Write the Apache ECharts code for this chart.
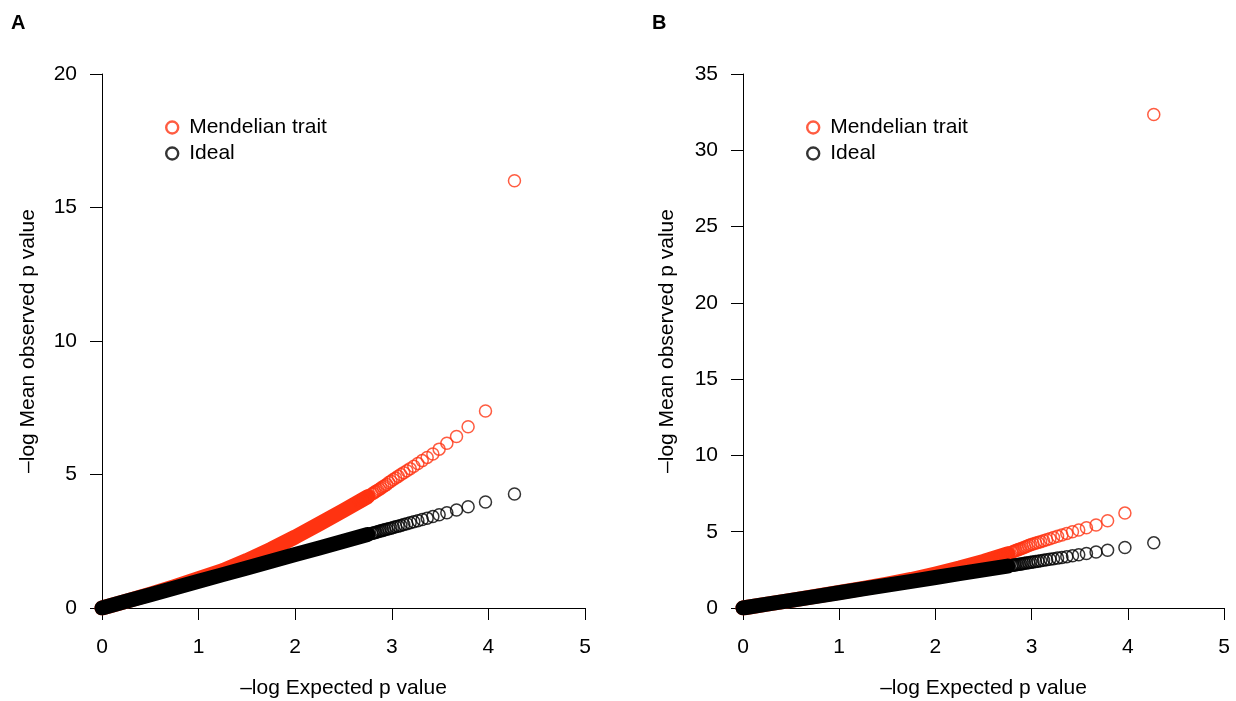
<!DOCTYPE html>
<html>
<head>
<meta charset="utf-8">
<script src="https://cdn.jsdelivr.net/npm/echarts@6/dist/echarts.min.js"></script>
<style>
html,body{margin:0;padding:0;background:#fff;}
#chart{width:1236px;height:701px;}
</style>
</head>
<body>
<div id="chart"></div>
<script>
// ---- data ----
const seriesNames = ['Mendelian trait', 'Ideal'];
const xTickLabels = ['0', '1', '2', '3', '4', '5'];
// dense part of the QQ curves (expected -log p)
const bandX = [0, 0.25, 0.5, 0.75, 1.0, 1.25, 1.5, 1.75, 2.0, 2.25, 2.5, 2.75];
const bandIdeal = [0, 0.25, 0.5, 0.75, 1.0, 1.25, 1.5, 1.75, 2.0, 2.25, 2.5, 2.75];
const bandA_red = [0, 0.25, 0.52, 0.8, 1.1, 1.4, 1.78, 2.2, 2.66, 3.15, 3.65, 4.17];
const bandB_red = [0, 0.25, 0.5, 0.76, 1.02, 1.28, 1.56, 1.87, 2.23, 2.62, 3.05, 3.55];
// separated points at the top end
const tailX = [4.27, 3.97, 3.79, 3.67, 3.57, 3.49, 3.425, 3.366, 3.315, 3.27, 3.228, 3.19, 3.156, 3.124, 3.094, 3.066, 3.04, 3.015, 2.991, 2.969,
  2.947, 2.927, 2.908, 2.889, 2.872, 2.855, 2.838, 2.823, 2.808, 2.793, 2.765, 2.738, 2.713, 2.689, 2.667];
const tailIdeal = [4.27, 3.97, 3.79, 3.67, 3.57, 3.49, 3.425, 3.366, 3.315, 3.27, 3.228, 3.19, 3.156, 3.124, 3.094, 3.066, 3.04, 3.015, 2.991, 2.969,
  2.947, 2.927, 2.908, 2.889, 2.872, 2.855, 2.838, 2.823, 2.808, 2.793, 2.765, 2.738, 2.713, 2.689, 2.667];
const tailA_red = [16.0, 7.38, 6.79, 6.42, 6.17, 5.95, 5.77, 5.64, 5.52, 5.41, 5.31, 5.22, 5.14, 5.07, 5.0, 4.93, 4.87, 4.81, 4.75, 4.70,
  4.63, 4.58, 4.54, 4.49, 4.45, 4.41, 4.37, 4.34, 4.30, 4.27, 4.20, 4.14, 4.08, 4.03, 3.98];
const tailB_red = [32.35, 6.22, 5.72, 5.44, 5.26, 5.11, 5.0, 4.89, 4.79, 4.70, 4.62, 4.54, 4.47, 4.41, 4.35, 4.29, 4.24, 4.19, 4.14, 4.10,
  4.03, 3.98, 3.93, 3.89, 3.85, 3.81, 3.77, 3.73, 3.69, 3.65, 3.59, 3.52, 3.46, 3.41, 3.36];
const yMaxA = 20, yMaxB = 35;

// ---- styling ----
const RED = '#ff3311';
const BLACK = '#000000';
const FONT = 'Liberation Sans, Arial, Helvetica, sans-serif';
const FS = 21;

function pairs(xs, ys) { return xs.map((x, i) => [x, ys[i]]); }

function xAxisFor(gi) {
  return {
    type: 'value', gridIndex: gi, min: 0, max: 5, interval: 1,
    name: '\u2013log Expected p value', nameLocation: 'middle', nameGap: 70,
    nameTextStyle: {fontSize: FS, color: '#000', fontFamily: FONT},
    axisLine: {show: true, onZero: false, lineStyle: {color: '#000', width: 1}},
    axisTick: {show: true, inside: false, length: 12, lineStyle: {color: '#000', width: 1}},
    axisLabel: {show: true, margin: 29, fontSize: FS, color: '#000', fontFamily: FONT,
      formatter: v => xTickLabels[Math.round(v)]},
    splitLine: {show: false}
  };
}
function yAxisFor(gi, max) {
  return {
    type: 'value', gridIndex: gi, min: 0, max: max, interval: 5,
    name: '\u2013log Mean observed p value', nameLocation: 'middle', nameGap: gi === 0 ? 63 : 65,
    nameTextStyle: {fontSize: FS, color: '#000', fontFamily: FONT},
    axisLine: {show: true, onZero: false, lineStyle: {color: '#000', width: 1}},
    axisTick: {show: true, inside: false, length: 12, lineStyle: {color: '#000', width: 1}},
    axisLabel: {show: true, margin: 25, fontSize: FS, color: '#000', fontFamily: FONT},
    splitLine: {show: false}
  };
}
function bandSeries(gi, name, ys, color, z) {
  return {
    type: 'line', name: name + ' band', xAxisIndex: gi, yAxisIndex: gi,
    data: pairs(bandX, ys), showSymbol: false, smooth: false, z: z,
    lineStyle: {color: color, width: 15, cap: 'round', join: 'round'},
    silent: true
  };
}
function tailSeries(gi, name, ys, color, z) {
  return {
    type: 'scatter', name: name, xAxisIndex: gi, yAxisIndex: gi,
    data: pairs(tailX, ys), symbol: 'circle', symbolSize: 12, z: z,
    itemStyle: {color: 'rgba(255,255,255,0)', borderColor: color, borderWidth: 1.5},
    silent: true
  };
}
function legendFor(left, top) {
  return {
    orient: 'vertical', left: left, top: top, itemGap: 5, itemWidth: 12, itemHeight: 12,
    textStyle: {fontSize: FS, color: '#000', fontFamily: FONT, padding: [0, 0, 0, 6]},
    selectedMode: false,
    data: [
      {name: seriesNames[0], icon: 'circle', itemStyle: {color: 'rgba(255,255,255,0)', borderColor: RED, borderWidth: 2.4}},
      {name: seriesNames[1], icon: 'circle', itemStyle: {color: 'rgba(255,255,255,0)', borderColor: BLACK, borderWidth: 2.4}}
    ]
  };
}

const chart = echarts.init(document.getElementById('chart'), null, {renderer: 'canvas'});
chart.setOption({
  animation: false,
  backgroundColor: '#fff',
  grid: [
    {left: 102, top: 74, width: 483, height: 534, containLabel: false, outerBoundsMode: 'none'},
    {left: 743, top: 74, width: 481, height: 534, containLabel: false, outerBoundsMode: 'none'}
  ],
  xAxis: [xAxisFor(0), xAxisFor(1)],
  yAxis: [yAxisFor(0, yMaxA), yAxisFor(1, yMaxB)],
  legend: [legendFor(160, 112), legendFor(801, 112)],
  graphic: [
    {type: 'text', left: 11, top: 13, style: {text: 'A', fontSize: 20, fontWeight: 'bold', fill: '#000', fontFamily: FONT}},
    {type: 'text', left: 652, top: 13, style: {text: 'B', fontSize: 20, fontWeight: 'bold', fill: '#000', fontFamily: FONT}}
  ],
  series: [
    bandSeries(0, seriesNames[0], bandA_red, RED, 2),
    tailSeries(0, seriesNames[0], tailA_red, RED, 3),
    bandSeries(0, seriesNames[1], bandIdeal, BLACK, 4),
    tailSeries(0, seriesNames[1], tailIdeal, BLACK, 5),
    bandSeries(1, seriesNames[0], bandB_red, RED, 2),
    tailSeries(1, seriesNames[0], tailB_red, RED, 3),
    bandSeries(1, seriesNames[1], bandIdeal, BLACK, 4),
    tailSeries(1, seriesNames[1], tailIdeal, BLACK, 5)
  ]
});
</script>
</body>
</html>
